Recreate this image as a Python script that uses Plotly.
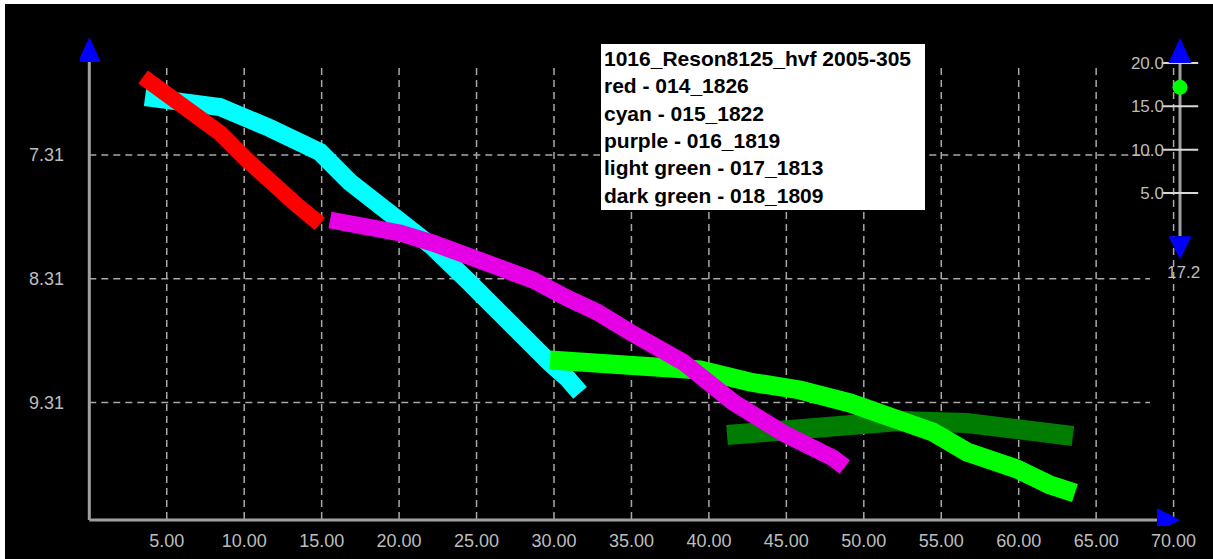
import plotly.graph_objects as go

# ---------------- data ----------------
X_TICKS = [5, 10, 15, 20, 25, 30, 35, 40, 45, 50, 55, 60, 65, 70]
X_TICK_TEXT = ["5.00", "10.00", "15.00", "20.00", "25.00", "30.00", "35.00",
               "40.00", "45.00", "50.00", "55.00", "60.00", "65.00", "70.00"]
Y_TICKS = [7.31, 8.31, 9.31]
Y_TICK_TEXT = ["7.31", "8.31", "9.31"]

SCALE_TICKS = [5, 10, 15, 20]
SCALE_TICK_TEXT = ["5.0", "10.0", "15.0", "20.0"]
SCALE_MIN, SCALE_MAX = 0, 20
SCALE_VALUE = [17.2]
SCALE_LABEL = "17.2"

RED_X = [3.47, 5.21, 6.82, 8.43, 10.04, 11.65, 13.39, 14.89]
RED_Y = [6.68, 6.825, 6.971, 7.132, 7.334, 7.536, 7.714, 7.867]

CYAN_X = [3.60, 5.86, 8.43, 11.65, 14.89, 16.82, 20.05, 22.18, 24.38, 26.51,
          28.64, 29.74, 30.84, 31.68]
CYAN_Y = [6.842, 6.866, 6.922, 7.092, 7.286, 7.528, 7.851, 8.053, 8.320, 8.602,
          8.861, 8.990, 9.111, 9.232]

PURPLE_X = [15.54, 17.93, 20.05, 22.18, 24.38, 26.51, 28.64, 30.84, 32.78,
            34.90, 38.33, 41.55, 44.78, 48.01, 48.78]
PURPLE_Y = [7.835, 7.875, 7.940, 8.021, 8.118, 8.207, 8.320, 8.465, 8.578,
            8.740, 8.982, 9.305, 9.556, 9.757, 9.830]

LGREEN_X = [29.74, 32.97, 36.20, 39.42, 42.65, 45.88, 49.11, 52.34, 54.47,
            56.66, 58.79, 59.89, 62.02, 63.63]
LGREEN_Y = [8.966, 8.990, 9.031, 9.047, 9.144, 9.208, 9.313, 9.450, 9.548,
            9.709, 9.782, 9.846, 9.975, 10.040]

DGREEN_X = [41.17, 44.78, 45.88, 49.11, 52.34, 56.66, 60.92, 63.50]
DGREEN_Y = [9.572, 9.531, 9.499, 9.475, 9.459, 9.475, 9.539, 9.580]

LEGEND_LINES = ["1016_Reson8125_hvf 2005-305", "red - 014_1826", "cyan - 015_1822",
                "purple - 016_1819", "light green - 017_1813", "dark green - 018_1809"]

# ---------------- pixel calibration / layout ----------------
W, H = 1213, 559
PL, PR, PT, PB = 80, 1213, 30, 526          # plot area in pixels
PX_X0, PX_PER_X = 89.3, 15.49                # x=0 at px 89.3
PY_REF, Y_REF, PX_PER_Y = 155.0, 7.31, 123.8
PY_S20, PX_PER_S = 63.0, 8.667               # right scale: 20 at px 63


def x_of(px):
    return (px - PX_X0) / PX_PER_X


def y_of(py):
    return Y_REF + (py - PY_REF) / PX_PER_Y


def s_of(py):
    return 20 + (PY_S20 - py) / PX_PER_S


def paper_x(px):
    return (px - PL) / (PR - PL)


def paper_y(py):
    return (PB - py) / (PB - PT)


X_AXIS_Y = y_of(520)
GRID_TOP = y_of(68)
GRID_RIGHT = x_of(1150)
SCALE_X = x_of(1180)

GRID_COLOR = "#a8a8a8"
AXIS_COLOR = "#a0a0a0"
TEXT_COLOR = "#bdbdbd"
FONT = "Liberation Sans, Arial, sans-serif"

fig = go.Figure()

series = [
    (DGREEN_X, DGREEN_Y, "#007c00", 20, "dark green"),
    (CYAN_X, CYAN_Y, "#00ffff", 18, "cyan"),
    (RED_X, RED_Y, "#ff0000", 16, "red"),
    (LGREEN_X, LGREEN_Y, "#00ff00", 19, "light green"),
    (PURPLE_X, PURPLE_Y, "#e600e6", 17, "purple"),
]
for xs, ys, col, wid, name in series:
    fig.add_trace(go.Scatter(x=xs, y=ys, mode="lines", name=name,
                             line=dict(color=col, width=wid),
                             hoverinfo="skip", showlegend=False))

# right-hand scale
fig.add_trace(go.Scatter(x=[SCALE_X, SCALE_X], y=[SCALE_MIN, SCALE_MAX], yaxis="y2",
                         mode="lines", line=dict(color=AXIS_COLOR, width=3),
                         hoverinfo="skip", showlegend=False))
fig.add_trace(go.Scatter(x=[SCALE_X] * len(SCALE_TICKS), y=SCALE_TICKS, yaxis="y2",
                         mode="markers",
                         marker=dict(symbol="line-ew", size=26,
                                     line=dict(color="#d8d8d8", width=2)),
                         hoverinfo="skip", showlegend=False))
fig.add_trace(go.Scatter(x=[SCALE_X] * len(SCALE_VALUE), y=SCALE_VALUE, yaxis="y2",
                         mode="markers",
                         marker=dict(symbol="circle", size=15, color="#00ff00"),
                         hoverinfo="skip", showlegend=False))

shapes = []
# white frame on left / top edge
shapes.append(dict(type="rect", xref="paper", yref="paper",
                   x0=paper_x(0), x1=paper_x(5), y0=paper_y(H), y1=paper_y(0),
                   fillcolor="white", line=dict(width=0), layer="below"))
shapes.append(dict(type="rect", xref="paper", yref="paper",
                   x0=paper_x(0), x1=paper_x(W), y0=paper_y(4), y1=paper_y(0),
                   fillcolor="white", line=dict(width=0), layer="below"))
# grid
for xt in X_TICKS:
    shapes.append(dict(type="line", xref="x", yref="y", x0=xt, x1=xt,
                       y0=GRID_TOP, y1=X_AXIS_Y, layer="below",
                       line=dict(color=GRID_COLOR, width=1.5, dash="7px,5px")))
for yt in Y_TICKS:
    shapes.append(dict(type="line", xref="x", yref="y", x0=0, x1=GRID_RIGHT,
                       y0=yt, y1=yt, layer="below",
                       line=dict(color=GRID_COLOR, width=1.5, dash="7px,5px")))
# axis lines
shapes.append(dict(type="line", xref="x", yref="y", x0=0, x1=0,
                   y0=y_of(60), y1=X_AXIS_Y, line=dict(color=AXIS_COLOR, width=3)))
shapes.append(dict(type="line", xref="x", yref="y", x0=0, x1=x_of(1168),
                   y0=X_AXIS_Y, y1=X_AXIS_Y, line=dict(color=AXIS_COLOR, width=3)))
# arrow heads
BLUE = "#0000ff"
shapes.append(dict(type="path", xref="x", yref="y", xsizemode="pixel", ysizemode="pixel",
                   xanchor=0, yanchor=y_of(62), path="M -11.5,0 L 11.5,0 L 0,25 Z",
                   fillcolor=BLUE, line=dict(width=0)))
shapes.append(dict(type="path", xref="x", yref="y", xsizemode="pixel", ysizemode="pixel",
                   xanchor=x_of(1157), yanchor=X_AXIS_Y, path="M 0,-12 L 0,12 L 23,0 Z",
                   fillcolor=BLUE, line=dict(width=0)))
shapes.append(dict(type="path", xref="x", yref="y2", xsizemode="pixel", ysizemode="pixel",
                   xanchor=SCALE_X, yanchor=SCALE_MAX, path="M -11.5,0 L 11.5,0 L 0,25 Z",
                   fillcolor=BLUE, line=dict(width=0)))
shapes.append(dict(type="path", xref="x", yref="y2", xsizemode="pixel", ysizemode="pixel",
                   xanchor=SCALE_X, yanchor=SCALE_MIN, path="M -11.5,0 L 11.5,0 L 0,-23 Z",
                   fillcolor=BLUE, line=dict(width=0)))

annotations = [
    dict(xref="x", yref="y", x=x_of(600), y=y_of(43), xanchor="left", yanchor="top",
         text="<br>".join("<b>%s</b>" % t for t in LEGEND_LINES), align="left",
         width=318, showarrow=False, bgcolor="white", bordercolor="black",
         borderwidth=1, borderpad=3,
         font=dict(family=FONT, size=21, color="black")),
    dict(xref="x", yref="y2", x=x_of(1183), y=s_of(272), xanchor="center",
         yanchor="middle", text=SCALE_LABEL, showarrow=False,
         font=dict(family=FONT, size=17, color=TEXT_COLOR)),
]

fig.update_layout(
    width=W, height=H,
    margin=dict(l=PL, r=W - PR, t=PT, b=H - PB, pad=0),
    paper_bgcolor="black", plot_bgcolor="black",
    showlegend=False,
    xaxis=dict(range=[x_of(PL), x_of(PR)], showgrid=False, zeroline=False,
               showline=False, ticks="", tickvals=X_TICKS, ticktext=X_TICK_TEXT,
               tickfont=dict(family=FONT, size=18, color=TEXT_COLOR),
               ticklabelstandoff=2, fixedrange=True),
    yaxis=dict(range=[y_of(PB), y_of(PT)], showgrid=False, zeroline=False,
               showline=False, ticks="", tickvals=Y_TICKS, ticktext=Y_TICK_TEXT,
               tickfont=dict(family=FONT, size=18, color=TEXT_COLOR),
               ticklabelstandoff=15, fixedrange=True),
    yaxis2=dict(overlaying="y", anchor="free", position=paper_x(1180), side="left",
                range=[s_of(PB), s_of(PT)], showgrid=False, zeroline=False,
                showline=False, ticks="", tickvals=SCALE_TICKS, ticktext=SCALE_TICK_TEXT,
                tickfont=dict(family=FONT, size=17, color=TEXT_COLOR),
                ticklabelstandoff=16, fixedrange=True),
    shapes=shapes,
    annotations=annotations,
)

fig.write_html("out.html", config={"displayModeBar": False},
               post_script="document.body.style.margin='0';"
                           "document.body.style.overflow='hidden';")
